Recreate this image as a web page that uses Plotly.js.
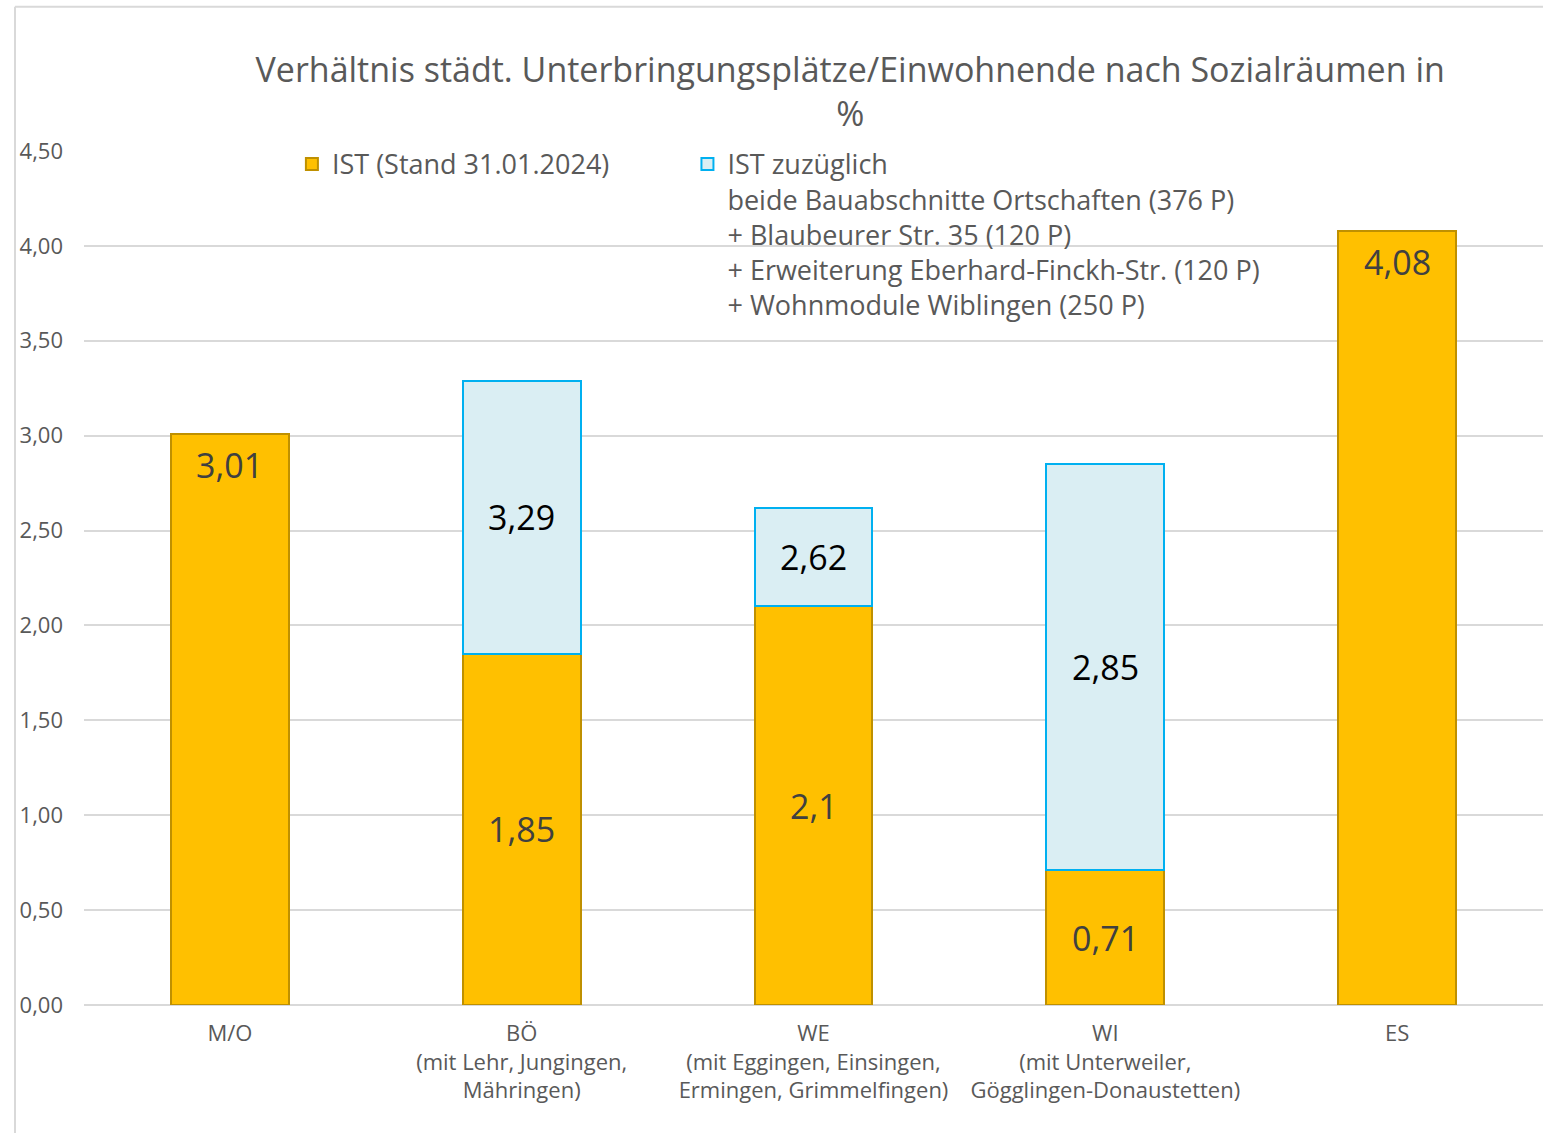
<!DOCTYPE html>
<html>
<head>
<meta charset="utf-8">
<script src="https://cdn.plot.ly/plotly-3.0.1.min.js"></script>
<style>
html,body{margin:0;padding:0;background:#fff;}
#chart{width:1543px;height:1133px;}
</style>
</head>
<body>
<div id="chart"></div>
<script>
const categories = [
  'M/O',
  'BÖ<br>(mit Lehr, Jungingen,<br>Mähringen)',
  'WE<br>(mit Eggingen, Einsingen,<br>Ermingen, Grimmelfingen)',
  'WI<br>(mit Unterweiler,<br>Gögglingen-Donaustetten)',
  'ES'
];
const istValues = [3.01, 1.85, 2.1, 0.71, 4.08];
const istPlusValues = [null, 3.29, 2.62, 2.85, null];
const istName = 'IST (Stand 31.01.2024)';
const istPlusName = 'IST zuzüglich<br>beide Bauabschnitte Ortschaften (376 P)<br>+ Blaubeurer Str. 35 (120 P)<br>+ Erweiterung Eberhard-Finckh-Str. (120 P)<br>+ Wohnmodule Wiblingen (250 P)';
const titleText = 'Verhältnis städt. Unterbringungsplätze/Einwohnende nach Sozialräumen in<br>%';
const yTicks = [0, 0.5, 1, 1.5, 2, 2.5, 3, 3.5, 4, 4.5];

const fmt = v => String(v).replace('.', ',');
const FONT = 'Open Sans, sans-serif';

const extra = istPlusValues.map((t, i) => t == null ? null : +(t - istValues[i]).toFixed(4));

const traces = [
  {
    type: 'bar', name: istName, x: categories, y: istValues, legend: 'legend', showlegend: true,
    marker: {color: '#FFC000', line: {color: '#BF9000', width: 2}},
    hoverinfo: 'skip'
  },
  {
    type: 'bar', name: istPlusName, x: categories, y: extra, legend: 'legend2', showlegend: true,
    marker: {color: '#DAEEF3', line: {color: '#00B0F0', width: 2}},
    hoverinfo: 'skip'
  }
];

const LBL = 34;
const annotations = [];
categories.forEach((c, i) => {
  if (istPlusValues[i] == null) {
    annotations.push({x: c, y: istValues[i], xref: 'x', yref: 'y', text: fmt(istValues[i]),
      showarrow: false, yanchor: 'top', yshift: -6, font: {family: FONT, size: LBL, color: '#404040', weight: 500}});
  } else {
    annotations.push({x: c, y: istValues[i] / 2, xref: 'x', yref: 'y', text: fmt(istValues[i]),
      showarrow: false, yanchor: 'middle', font: {family: FONT, size: LBL, color: '#404040', weight: 500}});
    annotations.push({x: c, y: (istValues[i] + istPlusValues[i]) / 2, xref: 'x', yref: 'y', text: fmt(istPlusValues[i]),
      showarrow: false, yanchor: 'middle', font: {family: FONT, size: LBL, color: '#000000', weight: 500}});
  }
});

const legendFont = {family: FONT, size: 27, color: '#595959'};

const layout = {
  width: 1543, height: 1133,
  margin: {l: 84, r: 0, t: 151, b: 128},
  paper_bgcolor: '#ffffff', plot_bgcolor: '#ffffff',
  barmode: 'stack', bargap: 0.596,
  separators: ',.',
  showlegend: true,
  font: {family: FONT, color: '#595959'},
  title: {text: titleText, font: {family: FONT, size: 34, color: '#595959'},
    x: 0.551, xref: 'container', xanchor: 'center', y: 1 - 82/1133, yref: 'container', yanchor: 'top'},
  xaxis: {type: 'category', tickfont: {family: FONT, size: 22, color: '#595959'},
    showgrid: false, showline: false, ticks: '', ticklabelstandoff: 13, fixedrange: true},
  yaxis: {range: [0, 4.5], tickvals: yTicks, tickformat: '.2f', tickfont: {family: FONT, size: 22, color: '#595959'},
    showgrid: true, gridcolor: '#d9d9d9', gridwidth: 2, zeroline: true, zerolinecolor: '#d9d9d9', zerolinewidth: 2,
    showline: false, ticks: '', ticklabelstandoff: 20, fixedrange: true},
  legend: {visible: true, orientation: 'h', x: 0.1425, y: 1.013, xanchor: 'left', yanchor: 'top', valign: 'top',
    font: legendFont, bgcolor: 'rgba(0,0,0,0)', itemclick: false, itemdoubleclick: false},
  legend2: {visible: true, orientation: 'h', x: 0.4136, y: 1.013, xanchor: 'left', yanchor: 'top', valign: 'top',
    font: legendFont, bgcolor: 'rgba(0,0,0,0)', itemclick: false, itemdoubleclick: false},
  annotations: annotations,
  shapes: [
    {type: 'line', xref: 'paper', yref: 'paper', x0: -0.0473, x1: -0.0473, y0: -0.16, y1: 1.169, line: {color: '#d9d9d9', width: 2}, layer: 'below'},
    {type: 'line', xref: 'paper', yref: 'paper', x0: -0.0473, x1: 1.0, y0: 1.169, y1: 1.169, line: {color: '#d9d9d9', width: 2}, layer: 'below'}
  ]
};

Plotly.newPlot('chart', traces, layout, {displayModeBar: false, staticPlot: true});
</script>
</body>
</html>
